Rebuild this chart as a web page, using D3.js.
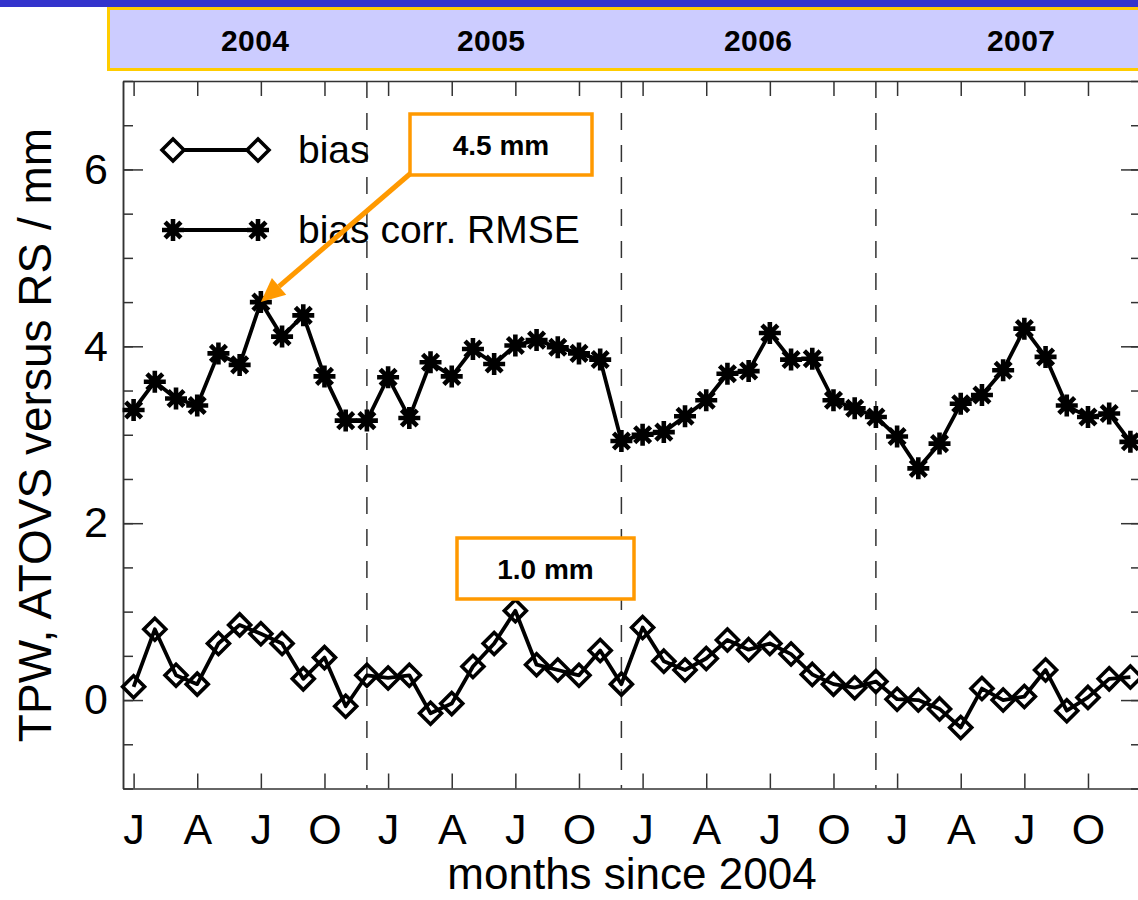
<!DOCTYPE html>
<html>
<head>
<meta charset="utf-8">
<title>TPW ATOVS versus RS</title>
<script src="https://cdn.jsdelivr.net/npm/d3@7"></script>
<style>
  body { margin: 0; background: #fff; }
  svg { display: block; font-family: "Liberation Sans", Arial, Helvetica, sans-serif; }
</style>
</head>
<body>
<svg id="chart" width="1138" height="900"></svg>
<script>
// month index since 2004 (1 = Jan 2004)
var months = d3.range(1, 49);

// bias corr. RMSE (asterisks)
var rmse = [3.28, 3.60, 3.41, 3.33, 3.92, 3.79, 4.50, 4.11, 4.35, 3.66, 3.16, 3.16,
            3.65, 3.19, 3.82, 3.66, 3.97, 3.80, 4.01, 4.07, 3.99, 3.92, 3.85, 2.93,
            3.00, 3.03, 3.21, 3.39, 3.69, 3.72, 4.15, 3.85, 3.86, 3.39, 3.30, 3.20,
            2.98, 2.62, 2.90, 3.35, 3.45, 3.73, 4.20, 3.88, 3.33, 3.20, 3.24, 2.92];

// bias (diamonds)
var bias = [0.15, 0.80, 0.28, 0.18, 0.64, 0.85, 0.75, 0.64, 0.24, 0.48, -0.07, 0.28,
            0.25, 0.28, -0.15, -0.04, 0.38, 0.64, 1.01, 0.40, 0.34, 0.28, 0.56, 0.18,
            0.82, 0.44, 0.34, 0.47, 0.68, 0.57, 0.64, 0.52, 0.29, 0.18, 0.14, 0.21,
            0.01, 0.00, -0.10, -0.31, 0.13, 0.00, 0.04, 0.34, -0.12, 0.03, 0.24, 0.26];

// x ticks (Jan, Apr, Jul, Oct of each year)
var tickMonths = [1, 4, 7, 10, 13, 16, 19, 22, 25, 28, 31, 34, 37, 40, 43, 46];
var tickLabels = ["J", "A", "J", "O", "J", "A", "J", "O", "J", "A", "J", "O", "J", "A", "J", "O"];
// year separators (dashed)
var yearBreaks = [12, 24, 36];
var years = ["2004", "2005", "2006", "2007"];
var yMajor = [0, 2, 4, 6];
var yMinor = [-1, -0.5, 0, 0.5, 1, 1.5, 2, 2.5, 3, 3.5, 4, 4.5, 5, 5.5, 6, 6.5, 7];

var svg = d3.select("#chart");

var plotLeft = 123, plotRight = 1141, plotTop = 81, plotBottom = 788.5;
var x = d3.scaleLinear().domain([0.5, 48.5]).range([plotLeft, plotRight]);
var y = d3.scaleLinear().domain([-1, 7]).range([plotBottom, plotTop]);

/** banner with years */
svg.append("rect").attr("x", 0).attr("y", 0).attr("width", 1138).attr("height", 7).attr("fill", "#3333cc");
svg.append("rect").attr("x", 108.5).attr("y", 8.5).attr("width", 1040).attr("height", 61)
   .attr("fill", "#ccccff").attr("stroke", "#ffcc00").attr("stroke-width", 3);
var yearX = [255, 491, 758, 1021];
svg.selectAll(".year").data(years).enter().append("text")
   .attr("x", function(d, i) { return yearX[i]; })
   .attr("y", 51)
   .attr("text-anchor", "middle")
   .attr("font-weight", "bold")
   .attr("font-size", 30)
   .attr("textLength", 68)
   .text(function(d) { return d; });

/** axes */
var g = svg.append("g");

g.append("g").attr("transform", "translate(" + plotLeft + ",0)")
 .call(d3.axisLeft(y).tickValues(yMinor).tickSizeInner(-10).tickSizeOuter(0).tickFormat(""));
g.append("g").attr("transform", "translate(" + plotLeft + ",0)")
 .call(d3.axisLeft(y).tickValues(yMajor).tickSizeInner(-20).tickSizeOuter(0).tickPadding(15)
        .tickFormat(d3.format("d")));
g.append("g").attr("transform", "translate(" + plotRight + ",0)")
 .call(d3.axisRight(y).tickValues(yMinor).tickSizeInner(-10).tickSizeOuter(0).tickFormat(""));
g.append("g").attr("transform", "translate(" + plotRight + ",0)")
 .call(d3.axisRight(y).tickValues(yMajor).tickSizeInner(-20).tickSizeOuter(0).tickFormat(""));
g.append("g").attr("transform", "translate(0," + plotBottom + ")")
 .call(d3.axisBottom(x).tickValues(tickMonths).tickSizeInner(-15).tickSizeOuter(0).tickPadding(25)
        .tickFormat(function(d, i) { return tickLabels[i]; }));
g.append("g").attr("transform", "translate(0," + plotTop + ")")
 .call(d3.axisTop(x).tickValues(tickMonths).tickSizeInner(-15).tickSizeOuter(0).tickFormat(""));

g.selectAll(".domain, .tick line").attr("stroke", "#333").attr("stroke-width", 1.5);
g.selectAll(".tick text").attr("font-size", 43).attr("fill", "#000")
 .attr("font-family", "'Liberation Sans', Arial, sans-serif");

/** dashed year separators */
svg.selectAll(".sep").data(yearBreaks).enter().append("line")
   .attr("x1", function(d) { return x(d); }).attr("x2", function(d) { return x(d); })
   .attr("y1", plotTop).attr("y2", plotBottom)
   .attr("stroke", "#333").attr("stroke-width", 1.5).attr("stroke-dasharray", "17,15");

/** axis titles */
svg.append("text").attr("transform", "translate(51,435) rotate(-90)")
   .attr("text-anchor", "middle").attr("font-size", 46).text("TPW, ATOVS versus RS / mm");
svg.append("text").attr("x", 632).attr("y", 889)
   .attr("text-anchor", "middle").attr("font-size", 44).text("months since 2004");

/** symbols */
function diamond(r) { return "M0," + (-r) + "L" + r + ",0L0," + r + "L" + (-r) + ",0Z"; }
function star(r) {
  var k = r * 0.72;
  return "M" + (-r) + ",0L" + r + ",0M0," + (-r) + "L0," + r +
         "M" + (-k) + "," + (-k) + "L" + k + "," + k + "M" + (-k) + "," + k + "L" + k + "," + (-k);
}

var line = d3.line().x(function(d, i) { return x(months[i]); }).y(function(d) { return y(d); });

function series(values, shape, sw) {
  svg.append("path").datum(values).attr("d", line)
     .attr("fill", "none").attr("stroke", "#000").attr("stroke-width", 3.8).attr("stroke-linejoin", "round");
  svg.selectAll(null).data(values).enter().append("path")
     .attr("transform", function(d, i) { return "translate(" + x(months[i]) + "," + y(d) + ")"; })
     .attr("d", shape)
     .attr("fill", "none").attr("stroke", "#000").attr("stroke-width", sw);
}
series(rmse, star(11), 4.6);
series(bias, diamond(11), 3.6);

/** legend */
var legend = [{label: "bias", shape: diamond(11), sw: 3.6, y: 150},
              {label: "bias corr. RMSE", shape: star(11), sw: 4.6, y: 230}];
legend.forEach(function(l) {
  svg.append("line").attr("x1", 173).attr("x2", 258).attr("y1", l.y).attr("y2", l.y)
     .attr("stroke", "#000").attr("stroke-width", 3.8);
  [173, 258].forEach(function(px) {
    svg.append("path").attr("transform", "translate(" + px + "," + l.y + ")").attr("d", l.shape)
       .attr("fill", "#fff").attr("stroke", "#000").attr("stroke-width", l.sw);
  });
  svg.append("text").attr("x", 298).attr("y", l.y + 13).attr("font-size", 39).text(l.label);
});

/** annotations */
var orange = "#ff9900";
var tipX = x(months[6]), tipY = y(rmse[6]);
var sx = 411, sy = 173;
var ang = Math.atan2(tipY - sy, tipX - sx), hl = 24, hw = 11;
var bx = tipX - hl * Math.cos(ang), by = tipY - hl * Math.sin(ang);
svg.append("line").attr("x1", sx).attr("y1", sy).attr("x2", bx).attr("y2", by)
   .attr("stroke", orange).attr("stroke-width", 5);
svg.append("path")
   .attr("d", "M" + tipX + "," + tipY +
              "L" + (bx + hw * Math.sin(ang)) + "," + (by - hw * Math.cos(ang)) +
              "L" + (bx - hw * Math.sin(ang)) + "," + (by + hw * Math.cos(ang)) + "Z")
   .attr("fill", orange);

function box(x0, y0, w, h, txt) {
  svg.append("rect").attr("x", x0).attr("y", y0).attr("width", w).attr("height", h)
     .attr("fill", "#fff").attr("stroke", orange).attr("stroke-width", 3.5);
  svg.append("text").attr("x", x0 + w / 2).attr("y", y0 + h / 2 + 10)
     .attr("text-anchor", "middle").attr("font-weight", "bold").attr("font-size", 28).text(txt);
}
box(410, 114, 182, 61, "4.5 mm");
box(457, 538, 177, 61, "1.0 mm");
</script>
</body>
</html>
